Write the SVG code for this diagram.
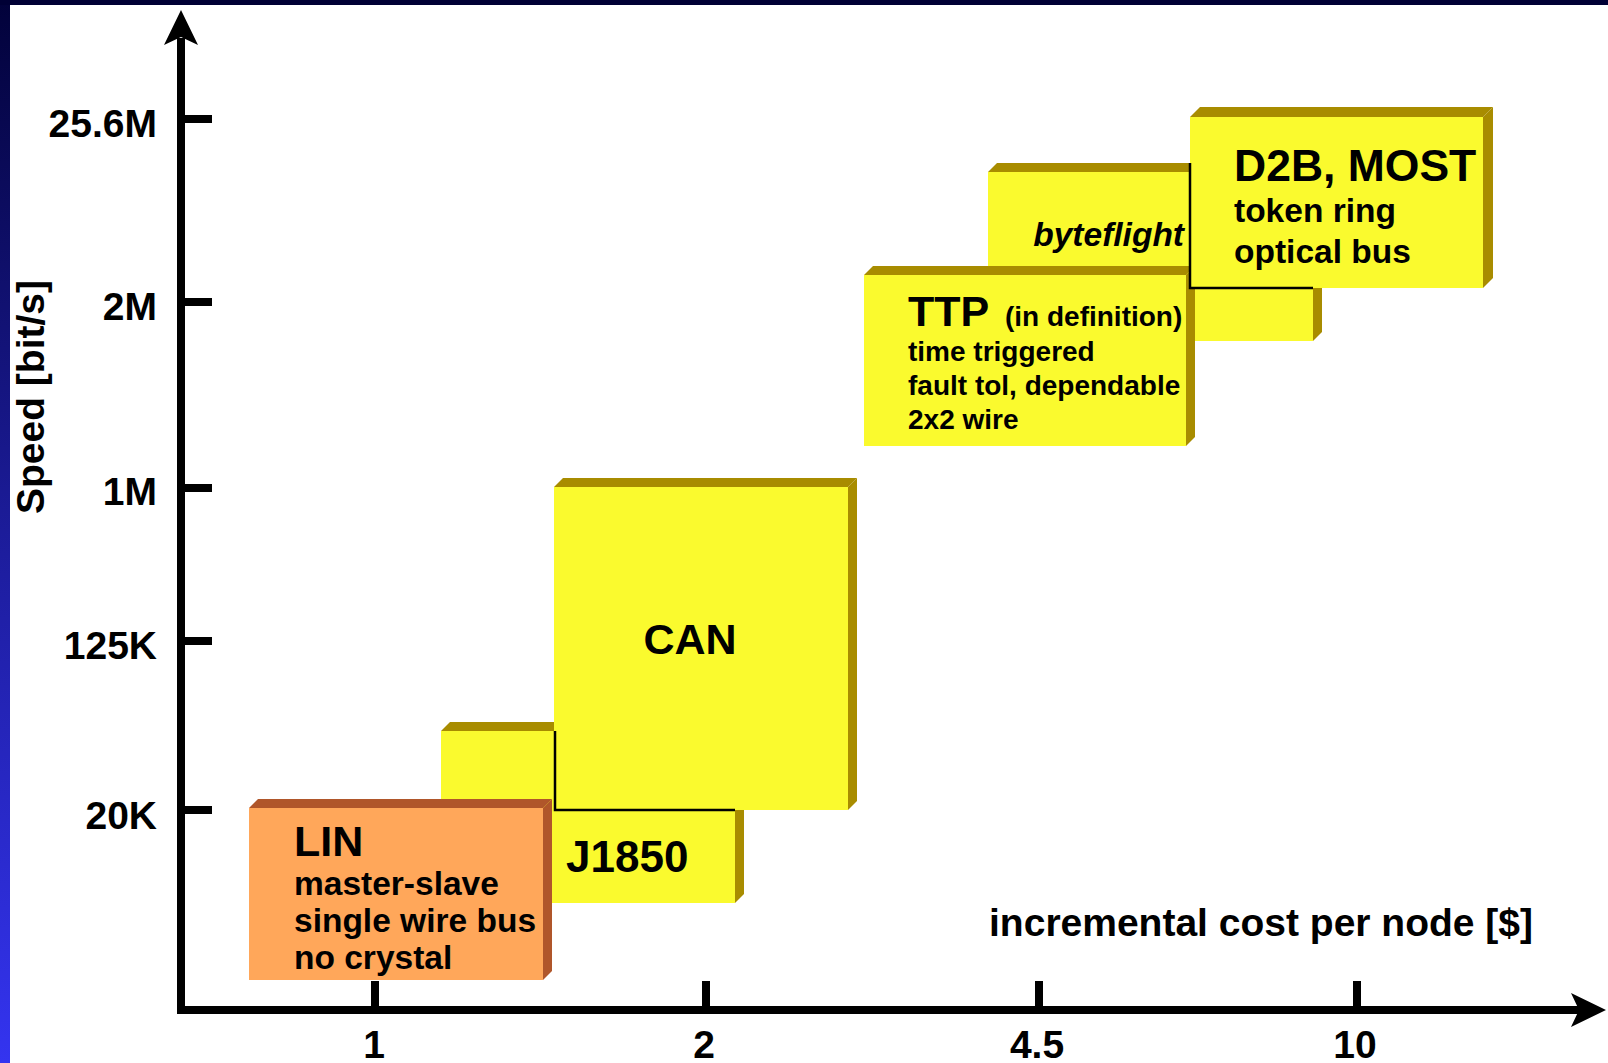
<svg xmlns="http://www.w3.org/2000/svg" width="1608" height="1063" viewBox="0 0 1608 1063">
  <defs>
    <linearGradient id="frameLeft" x1="0" y1="0" x2="0" y2="1">
      <stop offset="0" stop-color="#02023a"/>
      <stop offset="0.5" stop-color="#1c1c9a"/>
      <stop offset="1" stop-color="#3434f0"/>
    </linearGradient>
    <style>
      text { font-family: "Liberation Sans", Arial, sans-serif; font-weight: bold; fill: #000; }
      .yel .front { fill: #fafa2e; }
      .yel .side { fill: #a88c00; }
      .org .front { fill: #ffa75a; }
      .org .side { fill: #b0562a; }
      .axis { stroke: #000; stroke-width: 8; fill: none; }
      .seam { stroke: #000; stroke-width: 2.5; fill: none; }
      .tick { font-size: 39px; }
      .title { font-size: 43px; }
      .sub { font-size: 33.5px; }
      .ttpsub { font-size: 28px; }
    </style>
  </defs>

  <!-- page frame -->
  <rect x="0" y="0" width="1608" height="1063" fill="#ffffff"/>
  <rect x="0" y="0" width="10" height="1063" fill="url(#frameLeft)"/>
  <rect x="0" y="0" width="1608" height="5" fill="#000035"/>

  <!-- axes -->
  <g id="axes">
    <path class="axis" d="M181,1010 V38 M177,1010 H1580"/>
    <polygon points="181,10 198,45 181,37 164,45" fill="#000"/>
    <polygon points="1606,1010 1571,1027 1579,1010 1571,993" fill="#000"/>
    <path class="axis" d="M185,119 H212 M185,302 H212 M185,488 H212 M185,641 H212 M185,810 H212"/>
    <path class="axis" d="M375,1006 V981 M706,1006 V981 M1039,1006 V981 M1357,1006 V981"/>
    <g class="tick" text-anchor="end">
      <text x="157" y="137">25.6M</text>
      <text x="157" y="320">2M</text>
      <text x="157" y="505">1M</text>
      <text x="157" y="659">125K</text>
      <text x="157" y="829">20K</text>
    </g>
    <g class="tick" text-anchor="middle">
      <text x="374" y="1058">1</text>
      <text x="704" y="1058">2</text>
      <text x="1037" y="1058">4.5</text>
      <text x="1355" y="1058">10</text>
    </g>
    <text class="tick" transform="translate(44,397) rotate(-90)" text-anchor="middle">Speed [bit/s]</text>
    <text class="tick" x="1533" y="936" text-anchor="end">incremental cost per node [$]</text>
  </g>

  <!-- J1850 -->
  <g id="j1850" class="yel">
    <polygon class="side" points="441,731 450,722 744,722 735,731"/>
    <polygon class="side" points="735,731 744,722 744,894 735,903"/>
    <rect class="front" x="441" y="731" width="294" height="172"/>
    <text x="566" y="872" font-size="44">J1850</text>
  </g>

  <!-- CAN -->
  <g id="can" class="yel">
    <polygon class="side" points="554,487 563,478 857,478 848,487"/>
    <polygon class="side" points="848,487 857,478 857,801 848,810"/>
    <rect class="front" x="554" y="487" width="294" height="323"/>
    <path class="seam" d="M555,731 V810 H735"/>
    <text class="title" x="690" y="654" text-anchor="middle">CAN</text>
  </g>

  <!-- LIN -->
  <g id="lin" class="org">
    <polygon class="side" points="249,808 258,799 552,799 543,808"/>
    <polygon class="side" points="543,808 552,799 552,971 543,980"/>
    <rect class="front" x="249" y="808" width="294" height="172"/>
    <text class="title" x="294" y="856">LIN</text>
    <text class="sub" x="294" y="895">master-slave</text>
    <text class="sub" x="294" y="932">single wire bus</text>
    <text class="sub" x="294" y="969">no crystal</text>
  </g>

  <!-- byteflight -->
  <g id="byteflight" class="yel">
    <polygon class="side" points="988,172 997,163 1322,163 1313,172"/>
    <polygon class="side" points="1313,172 1322,163 1322,332 1313,341"/>
    <rect class="front" x="988" y="172" width="325" height="169"/>
    <text x="1184" y="246" font-size="33.5" font-style="italic" text-anchor="end">byteflight</text>
  </g>

  <!-- TTP -->
  <g id="ttp" class="yel">
    <polygon class="side" points="864,275 873,266 1195,266 1186,275"/>
    <polygon class="side" points="1186,275 1195,266 1195,437 1186,446"/>
    <rect class="front" x="864" y="275" width="322" height="171"/>
    <text x="908" y="326"><tspan class="title">TTP</tspan><tspan x="1005" font-size="28">(in definition)</tspan></text>
    <text class="ttpsub" x="908" y="361">time triggered</text>
    <text class="ttpsub" x="908" y="395">fault tol, dependable</text>
    <text class="ttpsub" x="908" y="429">2x2 wire</text>
  </g>

  <!-- D2B, MOST -->
  <g id="d2b" class="yel">
    <polygon class="side" points="1190,117 1200,107 1493,107 1483,117"/>
    <polygon class="side" points="1483,117 1493,107 1493,278 1483,288"/>
    <rect class="front" x="1190" y="117" width="293" height="171"/>
    <path class="seam" d="M1190,163 V288 H1313"/>
    <text x="1234" y="181" font-size="44.5">D2B, MOST</text>
    <text class="sub" x="1234" y="222">token ring</text>
    <text class="sub" x="1234" y="263">optical bus</text>
  </g>
</svg>
